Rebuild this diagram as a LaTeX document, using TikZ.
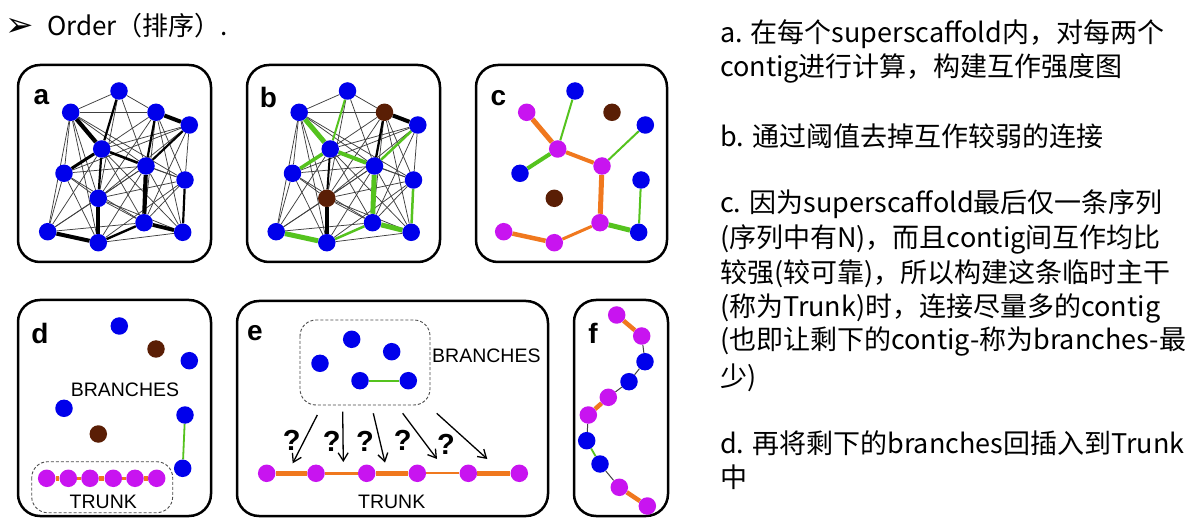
\documentclass[tikz,border=0pt]{standalone}
\usepackage{fontspec}
\setmainfont{Liberation Sans}
\newfontfamily\cjk{Noto Sans CJK SC}
\newfontfamily\dejavu{DejaVu Sans}
\usetikzlibrary{backgrounds,arrows.meta}
\definecolor{nblue}{RGB}{0,0,235}
\definecolor{nmag}{RGB}{200,20,240}
\definecolor{nbrown}{RGB}{90,30,5}
\definecolor{norange}{RGB}{240,120,30}
\definecolor{ngreen}{RGB}{85,195,30}
\tikzset{
  dot/.style={circle,inner sep=0pt,minimum size=17.5pt,draw=none},
  panel/.style={draw,line width=2.5pt,rounded corners=22pt},
  dbox/.style={draw=black!70,line width=0.9pt,dash pattern=on 3pt off 2pt,rounded corners=16pt},
  weak/.style={black!75,line width=0.75pt},
  lab/.style={inner sep=0pt,font=\bfseries\fontsize{28}{28}\selectfont},
  word/.style={inner sep=0pt,font=\fontsize{19.5}{19.5}\selectfont},
  qm/.style={inner sep=0pt,font=\bfseries\fontsize{29}{29}\selectfont},
  cjktext/.style={anchor=base west,inner sep=0pt,font=\cjk\fontsize{27}{27}\selectfont},
  barb/.style={-{Straight Barb[length=8pt,width=10pt]},line width=1.3pt},
}
\begin{document}
\begin{tikzpicture}[x=1pt,y=-1pt]
\useasboundingbox (0,0) rectangle (1200,529);
\begin{pgfonlayer}{background}
\fill[white] (0,0) rectangle (1200,529);
\end{pgfonlayer}

% header
\node[inner sep=0pt,font=\dejavu\fontsize{34}{34}\selectfont] (arrowsym) at (20,27) {➢};
\node[anchor=base west,inner sep=0pt,font=\cjk\fontsize{26}{26}\selectfont] (title) at (47,36) {Order（排序）.};

% panels
\draw[panel] (18,65) rectangle (211,262);
\draw[panel] (247,65) rectangle (440,262);
\draw[panel] (476,65) rectangle (667,262);
\draw[panel] (18,300) rectangle (211,516);
\draw[panel] (237,301) rectangle (548,516);
\draw[panel] (574,300) rectangle (668,516);

\node[lab] (la) at (41.5,97) {a};
\node[lab] (lb) at (268.5,97) {b};
\node[lab] (lc) at (498.5,98) {c};
\node[lab] (ld) at (40,333) {d};
\node[lab] (le) at (255,333) {e};
\node[lab] (lf) at (593,333) {f};

% graph nodes a, b, c
\foreach \n/\x/\y/\ca/\cb/\cc in {
 1/119/91/nblue/nblue/nblue,
 2/70.7/112.3/nblue/nblue/nmag,
 3/156/112.3/nblue/nbrown/nbrown,
 4/189.3/125/nblue/nblue/nblue,
 5/101.7/149/nblue/nblue/nmag,
 6/146/166/nblue/nblue/nmag,
 7/64/173.3/nblue/nblue/nblue,
 8/185/180/nblue/nblue/nblue,
 9/98.3/198.3/nblue/nbrown/nbrown,
 10/144/222.7/nblue/nblue/nmag,
 11/47.7/231.7/nblue/nblue/nmag,
 12/182.7/232.3/nblue/nblue/nblue,
 13/98.3/242.7/nblue/nblue/nmag}{
  \node[dot,fill=\ca] (a\n) at (\x,\y) {};
  \node[dot,fill=\cb] (b\n) at (\x+228.5,\y) {};
  \node[dot,fill=\cc] (c\n) at (\x+456,\y) {};
}

% panel d nodes
\node[dot,fill=nblue] (d1) at (119.3,326) {};
\node[dot,fill=nbrown] (d2) at (156,349) {};
\node[dot,fill=nblue] (d3) at (189.3,360.7) {};
\node[dot,fill=nblue] (d4) at (64,408.3) {};
\node[dot,fill=nbrown] (d5) at (98.3,434) {};
\node[dot,fill=nblue] (d6) at (185,415) {};
\node[dot,fill=nblue] (d7) at (182.7,468.3) {};
\node[word] (dbr) at (125,390) {BRANCHES};
\draw[dbox] (31.7,461.7) rectangle (172.7,512.7);
\foreach \i/\x in {1/46.7,2/68.3,3/90,4/113.3,5/135,6/156.7}{
  \node[dot,fill=nmag] (dt\i) at (\x,478.3) {};
}
\node[word] (dtr) at (103.3,501.7) {TRUNK};

% panel e
\draw[dbox] (300,320) rectangle (430,405);
\node[dot,fill=nblue] (e1) at (351.7,339.3) {};
\node[dot,fill=nblue] (e2) at (391.7,351.7) {};
\node[dot,fill=nblue] (e3) at (320,363.3) {};
\node[dot,fill=nblue] (e4) at (360,380.7) {};
\node[dot,fill=nblue] (e5) at (408.3,380.7) {};
\node[word,anchor=west] (ebr) at (432,356) {BRANCHES};
\foreach \i/\x in {1/266.7,2/316,3/366.7,4/417.3,5/468.3,6/519.3}{
  \node[dot,fill=nmag] (et\i) at (\x,473.3) {};
}
\node[word] (etr) at (391.7,501.7) {TRUNK};
\coordinate (s1) at (317.3,415);   \coordinate (t1) at (292.7,463.3);
\coordinate (s2) at (342.7,411.7); \coordinate (t2) at (343.3,462);
\coordinate (s3) at (373.3,413.3); \coordinate (t3) at (385,462.7);
\coordinate (s4) at (402.7,413.3); \coordinate (t4) at (437,459);
\coordinate (s5) at (436.7,413.3); \coordinate (t5) at (487.3,459);
\foreach \i in {1,...,5}{\draw[barb] (s\i) -- (t\i);}
\node[qm] (q1) at (291.7,440) {?};
\node[qm] (q2) at (331.7,441.7) {?};
\node[qm] (q3) at (365,441.7) {?};
\node[qm] (q4) at (402.7,440) {?};
\node[qm] (q5) at (446,444) {?};

% panel f
\foreach \i/\x/\y/\c in {1/616.7/315/nmag,2/641.7/336/nmag,3/645/361.7/nblue,4/629/381.7/nblue,5/608.3/397.3/nmag,6/588.3/415/nmag,7/586.7/440.7/nblue,8/600/464/nblue,9/619.3/487.3/nmag,10/647.3/506/nmag}{
  \node[dot,fill=\c] (f\i) at (\x,\y) {};
}

% right text
\node[cjktext] (r1) at (720,43) {a. 在每个superscaffold内，对每两个};
\node[cjktext] (r2) at (720,77) {contig进行计算，构建互作强度图};
\node[cjktext] (r3) at (720,147) {b. 通过阈值去掉互作较弱的连接};
\node[cjktext] (r4) at (720,213) {c. 因为superscaffold最后仅一条序列};
\node[cjktext] (r5) at (720,248) {(序列中有N)，而且contig间互作均比};
\node[cjktext] (r6) at (720,283) {较强(较可靠)，所以构建这条临时主干};
\node[cjktext] (r7) at (720,317) {(称为Trunk)时，连接尽量多的contig};
\node[cjktext] (r8) at (720,350) {(也即让剩下的contig-称为branches-最};
\node[cjktext] (r9) at (720,387) {少)};
\node[cjktext] (r10) at (720,453) {d. 再将剩下的branches回插入到Trunk};
\node[cjktext] (r11) at (720,487) {中};

% edges
\begin{pgfonlayer}{background}
\foreach \i/\j in {1/2,1/3,1/6,1/9,2/3,2/7,2/11,2/9,2/6,2/13,2/8,3/5,3/9,3/8,3/12,3/10,4/5,4/7,4/8,4/9,4/10,5/8,5/10,5/12,5/11,6/7,6/8,6/11,6/12,6/13,6/9,7/9,7/11,7/13,7/10,8/10,8/13,8/9,9/11,9/10,9/12,10/11,12/13}{
  \draw[weak] (a\i) -- (a\j);
  \draw[weak] (b\i) -- (b\j);
}
% panel a strong edges
\foreach \i/\j/\w in {2/5/4.2,3/4/4,6/10/4.2,9/13/4,11/13/4,10/12/3.8,5/7/3,5/6/2.6,1/5/2.2,3/6/2.2,4/6/2.2,5/9/2.2,8/12/2.2,10/13/2.4}{
  \draw[black,line width=\w pt] (a\i) -- (a\j);
}
% panel b
\foreach \i/\j/\w in {2/5/5,6/10/5,10/12/5,11/13/5,5/6/4,5/7/3.5,1/5/2,4/6/2.5,10/13/2.5,8/12/2.5}{
  \draw[ngreen,line width=\w pt] (b\i) -- (b\j);
}
\foreach \i/\j/\w in {3/4/4,3/6/2.3,5/9/2,9/13/3.5}{
  \draw[black,line width=\w pt] (b\i) -- (b\j);
}
% panel c
\foreach \i/\j/\w in {2/5/5,5/6/4,6/10/5,10/13/3,13/11/4.5}{
  \draw[norange,line width=\w pt] (c\i) -- (c\j);
}
\foreach \i/\j/\w in {1/5/2,5/7/4,4/6/2,10/12/5,12/8/2}{
  \draw[ngreen,line width=\w pt] (c\i) -- (c\j);
}
% panel d
\draw[ngreen,line width=1.8pt] (d6) -- (d7);
\foreach \i/\j/\w in {1/2/5,2/3/2.5,3/4/5,4/5/2.5,5/6/5}{
  \draw[norange,line width=\w pt] (dt\i) -- (dt\j);
}
% panel e
\draw[ngreen,line width=1.8pt] (e4) -- (e5);
\foreach \i/\j/\w in {1/2/5,2/3/3,3/4/5,4/5/2,5/6/4.5}{
  \draw[norange,line width=\w pt] (et\i) -- (et\j);
}
% panel f
\foreach \i/\j/\c/\w in {1/2/norange/4.5,2/3/black!75/1,3/4/black!75/1,4/5/black!75/1,5/6/norange/4.5,6/7/black!75/1,7/8/ngreen/1.8,8/9/black!75/1,9/10/norange/4.5}{
  \draw[\c,line width=\w pt] (f\i) -- (f\j);
}
\end{pgfonlayer}
\end{tikzpicture}
\end{document}
